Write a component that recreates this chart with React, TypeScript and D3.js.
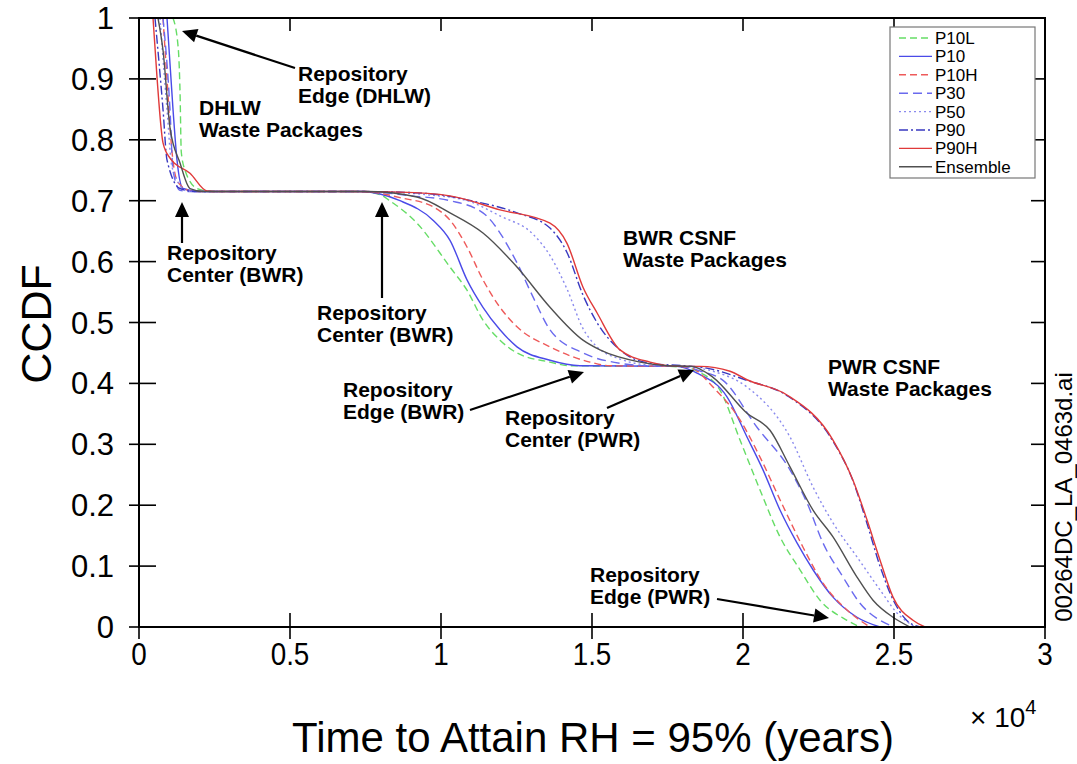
import React from 'react'
import * as d3 from 'd3'

// time in years, CCDF value
const p10L: [number, number][] = [
  [1126, 1.0], [1300, 0.95], [1358, 0.88], [1400, 0.78], [1523, 0.75], [1920, 0.72], [2251, 0.716], [2600, 0.715],
  [7300, 0.715], [7980, 0.71], [8300, 0.70], [9205, 0.663], [10298, 0.591], [10861, 0.553], [11390, 0.504],
  [11953, 0.471], [12516, 0.45], [13609, 0.435], [14272, 0.429], [17500, 0.428],
  [18245, 0.425], [18477, 0.42], [19238, 0.389], [19901, 0.307], [20563, 0.225], [21225, 0.148],
  [21887, 0.094], [22550, 0.044], [23444, 0.011], [23874, 0],
]
const p10: [number, number][] = [
  [927, 1.0], [1126, 0.85], [1258, 0.767], [1457, 0.72], [2020, 0.715],
  [7300, 0.715], [8642, 0.70], [9735, 0.668], [10298, 0.635], [10861, 0.57], [11390, 0.525],
  [11953, 0.488], [12516, 0.46], [13609, 0.438], [14600, 0.429], [17800, 0.428],
  [18477, 0.417], [19470, 0.378], [20132, 0.312], [20662, 0.258], [21225, 0.192], [21788, 0.138],
  [22318, 0.094], [22980, 0.049], [23775, 0.016], [24536, 0],
]
const p10H: [number, number][] = [
  [795, 1.0], [927, 0.9], [1093, 0.78], [1291, 0.73], [1788, 0.715],
  [7500, 0.715], [8642, 0.705], [9735, 0.69], [10298, 0.668], [10861, 0.624], [11390, 0.57],
  [11953, 0.525], [12516, 0.493], [13609, 0.46], [14934, 0.435], [15600, 0.429], [17800, 0.428],
  [18300, 0.425], [19007, 0.394], [19901, 0.34], [20563, 0.279], [21225, 0.209], [21987, 0.131],
  [22649, 0.072], [23444, 0.028], [24205, 0],
]
const p30: [number, number][] = [
  [795, 1.0], [1026, 0.85], [1126, 0.75], [1358, 0.717], [1700, 0.715],
  [7500, 0.715], [9000, 0.708], [10298, 0.70], [11390, 0.68], [12516, 0.598], [13046, 0.542],
  [13609, 0.488], [14702, 0.45], [15927, 0.433], [16800, 0.429], [18000, 0.428],
  [18600, 0.42], [19338, 0.405], [20463, 0.328], [21556, 0.258], [22119, 0.204], [22649, 0.138],
  [23311, 0.082], [23874, 0.039], [24536, 0.011], [25033, 0],
]
const p50: [number, number][] = [
  [695, 1.0], [927, 0.85], [1093, 0.755], [1590, 0.716], [2000, 0.715],
  [7500, 0.715], [9500, 0.71], [10861, 0.70], [11953, 0.675], [13046, 0.645], [13609, 0.61],
  [14172, 0.555], [14702, 0.49], [15165, 0.46], [15927, 0.44], [16921, 0.43], [18000, 0.428],
  [19000, 0.42], [20132, 0.394], [21556, 0.312], [22318, 0.23], [22980, 0.171], [23775, 0.115],
  [24536, 0.061], [25099, 0.023], [25695, 0],
]
const p90: [number, number][] = [
  [530, 1.0], [795, 0.85], [927, 0.767], [1358, 0.72], [1900, 0.715],
  [7500, 0.715], [9500, 0.712], [11000, 0.70], [12516, 0.68], [13609, 0.655], [14172, 0.615],
  [14702, 0.545], [15165, 0.5], [15927, 0.455], [16921, 0.433], [18000, 0.429],
  [18800, 0.425], [20132, 0.405], [21457, 0.38], [22980, 0.305], [23642, 0.24], [24106, 0.17],
  [24536, 0.1], [24967, 0.045], [25400, 0.012], [25861, 0],
]
const p90H: [number, number][] = [
  [464, 1.0], [600, 0.9], [795, 0.795], [1026, 0.77], [1689, 0.745], [2251, 0.716], [2600, 0.715],
  [7000, 0.715], [8642, 0.714], [10298, 0.708], [11953, 0.685], [13609, 0.663], [14172, 0.63],
  [14702, 0.558], [15165, 0.516], [15927, 0.455], [16921, 0.435], [17914, 0.428],
  [18576, 0.428], [19570, 0.42], [20132, 0.406], [21457, 0.381], [22980, 0.307], [23642, 0.241],
  [24106, 0.176], [24536, 0.11], [24967, 0.049], [25629, 0.011], [26026, 0],
]
const ensemble: [number, number][] = [
  [629, 1.0], [795, 0.947], [1026, 0.82], [1358, 0.762], [1689, 0.72], [2150, 0.715],
  [7500, 0.715], [9205, 0.706], [10298, 0.68], [11390, 0.647], [12516, 0.591], [13609, 0.525],
  [14702, 0.471], [15265, 0.455], [16589, 0.435], [17500, 0.429],
  [18300, 0.428], [19007, 0.41], [20132, 0.351], [20894, 0.323], [21556, 0.263], [22318, 0.192],
  [22980, 0.148], [23775, 0.082], [24305, 0.044], [24967, 0.016], [25529, 0],
]

const seriesNames = ['P10L', 'P10', 'P10H', 'P30', 'P50', 'P90', 'P90H', 'Ensemble']
const seriesData = [p10L, p10, p10H, p30, p50, p90, p90H, ensemble]
const seriesColors = ['#66dd66', '#4a4ae8', '#ee5a5a', '#6a6aee', '#8a8aee', '#3838c0', '#e03a3a', '#505050']
const seriesDash = ['7,4', null, '7,4', '9,5', '2,3', '9,3,2,3', null, null]

const xTicks = [0, 5000, 10000, 15000, 20000, 25000, 30000]
const xTickLabels = ['0', '0.5', '1', '1.5', '2', '2.5', '3']
const yTicks = [0, 0.1, 0.2, 0.3, 0.4, 0.5, 0.6, 0.7, 0.8, 0.9, 1]
const yTickLabels = ['0', '0.1', '0.2', '0.3', '0.4', '0.5', '0.6', '0.7', '0.8', '0.9', '1']

// annotation text lines: [x, y of first baseline, lines]
const notes: [number, number, string[]][] = [
  [298, 81, ['Repository', 'Edge (DHLW)']],
  [199, 115, ['DHLW', 'Waste Packages']],
  [167, 260, ['Repository', 'Center (BWR)']],
  [317, 320, ['Repository', 'Center (BWR)']],
  [623, 245, ['BWR CSNF', 'Waste Packages']],
  [343, 397, ['Repository', 'Edge (BWR)']],
  [505, 425, ['Repository', 'Center (PWR)']],
  [828, 374, ['PWR CSNF', 'Waste Packages']],
  [590, 582, ['Repository', 'Edge (PWR)']],
]
// arrows: from (x1,y1) to tip (x2,y2) in pixels
const arrows: [number, number, number, number][] = [
  [295, 68, 182, 31],
  [182, 243, 182, 202],
  [382, 298, 382, 202],
  [470, 410, 584, 372],
  [607, 408, 694, 370],
  [717, 599, 829, 618],
]

const W = 1077, H = 764
const left = 139, right = 1045, top = 18, bottom = 627
const font = '"Liberation Sans", Arial, Helvetica, sans-serif'

export default function App() {
  const x = d3.scaleLinear().domain([0, 30000]).range([left, right])
  const y = d3.scaleLinear().domain([0, 1]).range([bottom, top])
  const line = d3.line<[number, number]>()
    .x(d => x(d[0]))
    .y(d => y(d[1]))
    .curve(d3.curveMonotoneX)

  return (
    <svg width={W} height={H} style={{ position: 'absolute', left: 0, top: 0, background: '#fff' }}
      fontFamily={font}>
      <defs>
        <clipPath id="plot">
          <rect x={left} y={top} width={right - left} height={bottom - top} />
        </clipPath>
      </defs>

      <g clipPath="url(#plot)">
        {seriesData.map((s, i) => (
          <path key={seriesNames[i]} d={line(s) || ''} fill="none" stroke={seriesColors[i]}
            strokeWidth={1.4} strokeDasharray={seriesDash[i] || undefined} />
        ))}
      </g>

      {/* frame */}
      <rect x={left} y={top} width={right - left} height={bottom - top} fill="none" stroke="#000" strokeWidth={2} />

      {/* ticks */}
      {xTicks.map((t, i) => (
        <g key={'x' + i}>
          <line x1={x(t)} x2={x(t)} y1={bottom + 12} y2={bottom - 14} stroke="#000" strokeWidth={1.6} />
          <line x1={x(t)} x2={x(t)} y1={top} y2={top + 13} stroke="#000" strokeWidth={1.6} />
          <text transform={`translate(${x(t)}, 665) scale(0.87, 1)`} fontSize={32} textAnchor="middle">
            {xTickLabels[i]}
          </text>
        </g>
      ))}
      {yTicks.map((t, i) => (
        <g key={'y' + i}>
          <line x1={left - 10} x2={left + 17} y1={y(t)} y2={y(t)} stroke="#000" strokeWidth={1.6} />
          <line x1={right - 14} x2={right} y1={y(t)} y2={y(t)} stroke="#000" strokeWidth={1.6} />
          <text x={114} y={y(t) + 11} fontSize={31} textAnchor="end">{yTickLabels[i]}</text>
        </g>
      ))}

      {/* axis titles */}
      <text transform={`translate(51, 324) rotate(-90)`} fontSize={43} textAnchor="middle">CCDF</text>
      <text x={593} y={752} fontSize={42} textAnchor="middle">Time to Attain RH = 95% (years)</text>
      <text x={970} y={727} fontSize={28}>× 10<tspan dy={-13} fontSize={20}>4</tspan></text>
      <text transform={`translate(1072, 497) rotate(-90)`} fontSize={24} textAnchor="middle">00264DC_LA_0463d.ai</text>

      {/* legend */}
      <rect x={890} y={27} width={145} height={151} fill="#fff" stroke="#777" strokeWidth={1.2} />
      {seriesNames.map((n, i) => {
        const ly = 38 + i * 18.4
        return (
          <g key={'l' + n}>
            <line x1={899} x2={932} y1={ly} y2={ly} stroke={seriesColors[i]} strokeWidth={1.4}
              strokeDasharray={seriesDash[i] || undefined} />
            <text x={935} y={ly + 6} fontSize={17}>{n}</text>
          </g>
        )
      })}

      {/* annotations */}
      {notes.map(([nx, ny, lines], i) => (
        <text key={'n' + i} x={nx} y={ny} fontSize={21} fontWeight="bold">
          {lines.map((s, j) => (
            <tspan key={j} x={nx} y={ny + j * 22}>{s}</tspan>
          ))}
        </text>
      ))}
      {arrows.map(([x1, y1, x2, y2], i) => {
        const a = Math.atan2(y2 - y1, x2 - x1)
        const len = 15, half = 7
        const bx = x2 - len * Math.cos(a), by = y2 - len * Math.sin(a)
        const p1 = [bx + half * Math.sin(a), by - half * Math.cos(a)]
        const p2 = [bx - half * Math.sin(a), by + half * Math.cos(a)]
        return (
          <g key={'a' + i}>
            <line x1={x1} y1={y1} x2={bx} y2={by} stroke="#000" strokeWidth={2.2} />
            <polygon points={`${x2},${y2} ${p1[0]},${p1[1]} ${p2[0]},${p2[1]}`} fill="#000" />
          </g>
        )
      })}
    </svg>
  )
}
